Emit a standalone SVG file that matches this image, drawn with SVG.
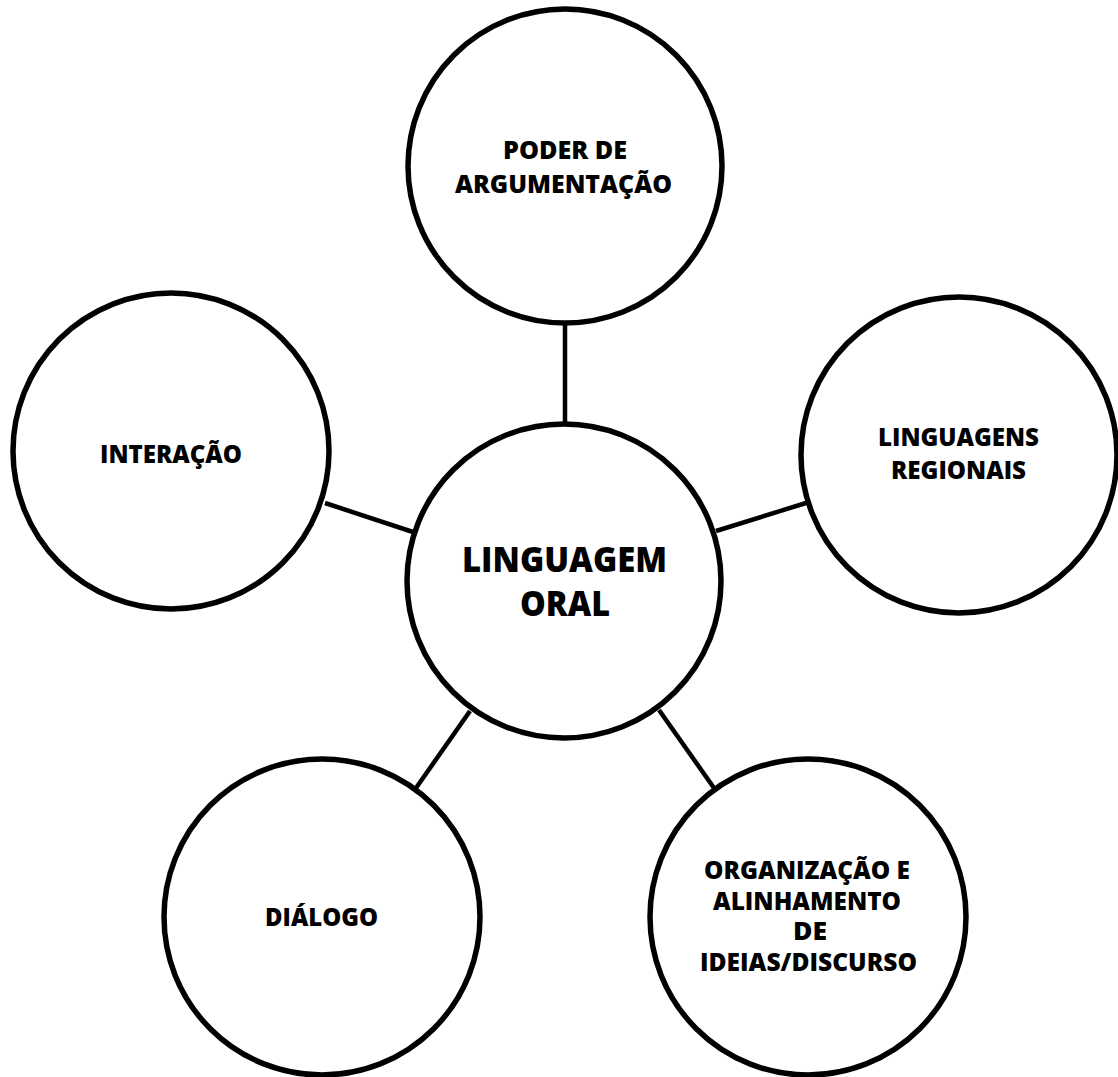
<svg xmlns="http://www.w3.org/2000/svg" width="1118" height="1077" viewBox="0 0 1118 1077">
  <style>
    .bg { fill: #ffffff; }
    .link { stroke: #000000; stroke-width: 4.5; fill: none; }
    .node circle { fill: #ffffff; stroke: #000000; stroke-width: 5.5; }
    .label { font-family: "Open Sans", "Liberation Sans", sans-serif; font-weight: 800; font-size: 24px; fill: #000000; text-anchor: middle; }
    .hub { font-size: 35px; }
  </style>
  <rect class="bg" x="0" y="0" width="1118" height="1077"/>

  <!-- connectors between the hub and the satellites -->
  <g id="connectors">
    <line class="link" x1="565" y1="324" x2="565" y2="424"/>
    <line class="link" x1="325" y1="503" x2="413" y2="532"/>
    <line class="link" x1="716" y1="531" x2="806" y2="503"/>
    <line class="link" x1="470" y1="711" x2="416" y2="788"/>
    <line class="link" x1="659" y1="710" x2="714" y2="788"/>
  </g>

  <g id="node-poder" class="node">
    <circle cx="565" cy="166" r="157"/>
    <text class="label" x="565" y="159" textLength="124" lengthAdjust="spacingAndGlyphs">PODER DE</text>
    <text class="label" x="563.5" y="193" textLength="217" lengthAdjust="spacingAndGlyphs">ARGUMENTAÇÃO</text>
  </g>

  <g id="node-linguagem-oral" class="node">
    <circle cx="564" cy="581" r="157"/>
    <text class="label hub" x="564.5" y="572" textLength="205" lengthAdjust="spacingAndGlyphs">LINGUAGEM</text>
    <text class="label hub" x="565" y="616" textLength="90" lengthAdjust="spacingAndGlyphs">ORAL</text>
  </g>

  <g id="node-interacao" class="node">
    <circle cx="171" cy="451" r="158"/>
    <text class="label" x="171" y="463" textLength="142" lengthAdjust="spacingAndGlyphs">INTERAÇÃO</text>
  </g>

  <g id="node-linguagens-regionais" class="node">
    <circle cx="959" cy="455" r="158"/>
    <text class="label" x="958.5" y="446" textLength="161" lengthAdjust="spacingAndGlyphs">LINGUAGENS</text>
    <text class="label" x="958.5" y="479" textLength="135" lengthAdjust="spacingAndGlyphs">REGIONAIS</text>
  </g>

  <g id="node-dialogo" class="node">
    <circle cx="322" cy="917" r="158"/>
    <text class="label" x="321.5" y="926" textLength="113" lengthAdjust="spacingAndGlyphs">DIÁLOGO</text>
  </g>

  <g id="node-organizacao" class="node">
    <circle cx="808" cy="917" r="158"/>
    <text class="label" x="807" y="879" textLength="206" lengthAdjust="spacingAndGlyphs">ORGANIZAÇÃO E</text>
    <text class="label" x="807" y="910" textLength="188" lengthAdjust="spacingAndGlyphs">ALINHAMENTO</text>
    <text class="label" x="810" y="940" textLength="34" lengthAdjust="spacingAndGlyphs">DE</text>
    <text class="label" x="808.5" y="971" textLength="217" lengthAdjust="spacingAndGlyphs">IDEIAS/DISCURSO</text>
  </g>
</svg>
